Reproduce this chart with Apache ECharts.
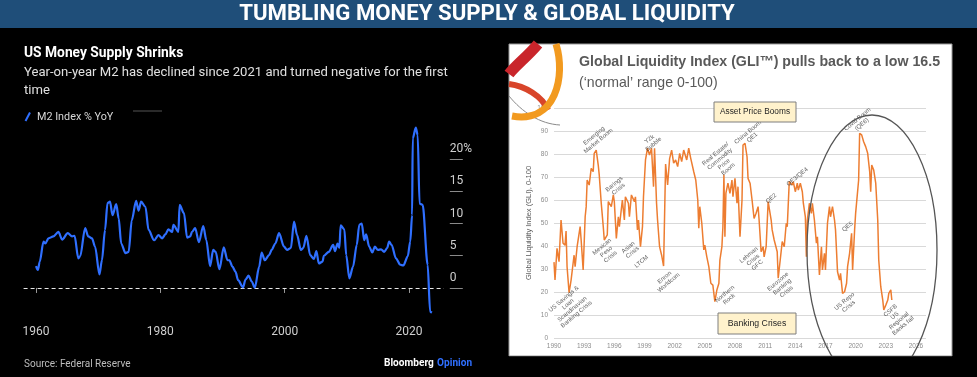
<!DOCTYPE html>
<html><head><meta charset="utf-8">
<script src="https://cdn.jsdelivr.net/npm/echarts@6/dist/echarts.min.js"></script>
<style>html,body{margin:0;padding:0;background:#000;}#main{width:977px;height:377px;}</style>
</head><body><div id="main"></div>
<script>
// ---------- DATA ----------
const m2Years = [1960.0,1960.3,1960.6,1961.2,1961.5,1962.0,1962.8,1963.6,1964.2,1965.1,1965.8,1966.2,1966.8,1967.1,1967.9,1968.4,1969.0,1969.5,1970.2,1970.6,1971.1,1971.5,1971.9,1972.3,1972.9,1973.3,1973.7,1974.4,1974.9,1975.4,1976.1,1976.5,1976.9,1977.6,1978.1,1979.0,1979.7,1980.3,1980.8,1981.3,1981.9,1982.1,1982.9,1983.1,1983.8,1984.3,1984.8,1985.1,1985.6,1986.2,1986.9,1987.4,1988.0,1988.5,1988.9,1989.5,1990.2,1990.8,1991.1,1991.6,1992.1,1992.5,1993.3,1993.7,1994.2,1994.7,1995.2,1995.9,1996.3,1996.8,1997.5,1997.9,1998.5,1999.1,1999.9,2000.4,2001.0,2001.5,2002.0,2002.6,2003.0,2003.5,2004.1,2004.7,2005.1,2005.5,2006.1,2006.3,2007.1,2007.8,2008.1,2008.5,2008.8,2009.0,2009.6,2009.9,2010.4,2011.0,2011.6,2012.0,2012.4,2012.8,2013.1,2013.6,2014.1,2014.5,2015.0,2015.5,2016.0,2016.5,2016.8,2017.2,2017.9,2018.6,2019.1,2019.8,2020.2,2020.5,2020.6,2021.1,2021.4,2021.7,2022.2,2023.0,2023.4,2023.7];
const m2Values = [3.4,2.8,4.1,7.2,6.9,7.7,8.0,8.7,7.5,8.5,8.0,8.1,4.6,4.9,9.3,8.0,7.7,6.4,2.1,4.3,9.0,13.2,13.4,11.3,13.0,10.8,6.9,5.4,5.6,10.5,13.5,12.0,13.4,12.6,9.0,7.4,8.2,7.7,8.3,9.1,8.7,9.8,8.7,12.9,11.6,7.8,8.0,8.7,9.3,7.1,9.6,7.4,3.4,5.9,5.6,2.9,6.3,4.3,4.3,3.3,2.5,1.2,0.1,1.3,1.9,1.0,0.05,3.3,5.5,4.3,5.1,5.9,6.9,8.5,6.4,5.9,6.2,10.3,8.2,5.9,6.2,8.1,5.1,4.5,5.7,3.8,4.1,5.0,5.6,6.7,5.7,6.9,6.2,9.7,9.1,5.1,1.5,3.3,6.7,9.8,10.0,7.4,8.3,6.4,5.5,6.4,5.9,6.0,5.6,6.2,7.2,6.7,4.6,3.6,3.5,4.9,7.2,11.3,23.2,24.9,23.7,13.1,12.9,3.6,-3.7,-3.8];
const m2TickYears = [1960, 1980, 2000, 2020];
const m2TickValues = [0, 5, 10, 15, 20];

const gliYears = [1990.0,1990.1,1990.3,1990.5,1990.7,1990.9,1991.1,1991.2,1991.3,1991.5,1991.7,1991.9,1992.0,1992.1,1992.3,1992.6,1992.7,1992.9,1993.1,1993.2,1993.3,1993.5,1993.7,1993.9,1994.0,1994.2,1994.4,1994.5,1994.7,1994.9,1995.0,1995.3,1995.4,1995.7,1995.9,1996.0,1996.2,1996.4,1996.5,1996.8,1997.0,1997.1,1997.4,1997.5,1997.7,1998.0,1998.1,1998.3,1998.4,1998.6,1998.8,1998.9,1999.1,1999.3,1999.5,1999.7,1999.9,2000.0,2000.2,2000.3,2000.5,2000.7,2000.9,2001.1,2001.3,2001.5,2001.7,2001.9,2002.1,2002.3,2002.5,2002.7,2002.9,2003.2,2003.4,2003.6,2003.9,2004.1,2004.3,2004.4,2004.5,2004.7,2004.9,2005.0,2005.2,2005.4,2005.6,2005.8,2006.0,2006.2,2006.4,2006.5,2006.7,2006.8,2006.9,2007.0,2007.1,2007.3,2007.5,2007.7,2007.8,2008.0,2008.2,2008.3,2008.5,2008.7,2008.8,2009.0,2009.2,2009.3,2009.5,2009.7,2009.9,2010.1,2010.3,2010.4,2010.6,2010.8,2010.9,2011.1,2011.3,2011.4,2011.6,2011.7,2011.9,2012.2,2012.3,2012.5,2012.7,2012.9,2013.1,2013.2,2013.4,2013.7,2013.8,2014.0,2014.2,2014.3,2014.5,2014.7,2014.8,2015.0,2015.1,2015.2,2015.4,2015.6,2015.7,2015.9,2016.1,2016.2,2016.4,2016.6,2016.7,2016.9,2017.0,2017.2,2017.4,2017.5,2017.7,2017.9,2018.0,2018.2,2018.4,2018.5,2018.7,2018.9,2019.1,2019.2,2019.4,2019.6,2019.7,2019.9,2020.0,2020.1,2020.3,2020.4,2020.6,2020.8,2021.0,2021.2,2021.4,2021.5,2021.6,2021.8,2022.0,2022.2,2022.3,2022.5,2022.7,2022.8,2023.0,2023.2,2023.3,2023.5,2023.6];
const gliValues = [33,25.2,39,33.2,51.3,41.2,40.4,46.5,31,19.7,25.2,32.5,36,31,39.7,48.4,42.6,29.6,52.7,57,68.7,66.5,73.8,72.3,80.3,81.7,75.2,70.9,58.6,48.4,42.6,44.8,59.3,57.1,62.2,59.3,43.3,52.7,48.4,60,51.3,61.4,58.6,52.7,62.2,59.3,61.4,47,51.3,39.7,48.4,61.4,77.4,82.5,79.6,82.5,65.8,82.5,58.6,51.3,39.7,36.1,31.3,75.6,66.5,78,81.7,76,77.4,74.5,80.3,76.7,81.7,77.4,82.5,78.1,72.3,68.7,60,47.7,57.1,49.9,38.3,40.4,35.3,31,23.8,23,15.8,20.9,23.8,33.9,39.7,48.4,71,44,63,67.3,62.9,68.7,61.4,69.4,58.6,65.8,44,60,83.9,84.6,78.8,69.4,67.3,60,52,54.2,57.1,51.3,37.5,39.7,35.3,39.7,59.3,58.6,51.3,47,42.6,37.5,26,33.9,41.9,39.7,49.9,48.4,68,66.5,68,63.6,67.3,64.3,67.3,63.6,58.6,52.7,35.3,51.3,58.6,54.2,58.6,51.3,41.2,44,27.4,39.7,29.6,36.8,29.6,49.9,57.1,52.7,57.1,51.3,47,28.8,25.2,28.1,19.4,20.1,23.8,31,36.8,45.5,29.6,47,54.2,54.9,68.7,89,88.3,85.3,83.2,80.3,72.3,63.6,75.2,73,67.3,51.3,33.9,22.3,16.5,12.2,14.3,16.5,19.4,20.9,16.5];
const gliTickYears = [1990,1993,1996,1999,2002,2005,2008,2011,2014,2017,2020,2023,2026];
const gliTickValues = [0,10,20,30,40,50,60,70,80,90,100];

const gliNotes = ["Emerging\nMarket Boom","Barings\nCrisis","Mexican\nPeso\nCrisis","Asian\nCrisis","LTCM","Y2k\nBubble","Enron\nWorldcom","US Savings &\nLoan\nScandinavian\nBanking Crisis","Real Estate/\nCommodity\nPrice\nBoom","Northern\nRock","China Boom\nQE1","QE2","Lehman\nCrisis\nGFC","Eurozone\nBanking\nCrisis","QE3/QE4","Covid Boom\n(QE6)","QE5","US Repo\nCrisis","CSFB\nUS\nRegional\nBanks fail"];
const gliNoteYears = [1994.2,1996.2,1995.2,1997.6,1998.7,1999.7,2001.2,1991.6,2006.7,2007.2,2009.5,2011.6,2009.8,2012.7,2014.2,2020.4,2019.2,2019.1,2024.1];
const gliNoteValues = [86.8,65.8,37.5,38.3,33.2,85.3,25.2,13.6,76.7,18,88.3,60.7,33.9,22.3,70.1,94,48.4,14.8,8.6];

// ---------- FONT HELPERS ----------
const cv = document.createElement('canvas').getContext('2d');
function hasFont(f){ cv.font='40px monospace'; const a=cv.measureText('abcdefghijkl WMi').width; cv.font='40px "'+f+'", monospace'; return cv.measureText('abcdefghijkl WMi').width!==a; }
const NARROW = hasFont('Liberation Sans Narrow') ? '"Liberation Sans Narrow"' : (hasFont('Roboto') ? 'Roboto' : 'sans-serif');
const ARIAL = '"Liberation Sans", Arial, sans-serif';
function fit(text, weight, family, target){ cv.font = weight+' 100px '+family; const w = cv.measureText(text).width; return Math.round(100*target/w*10)/10; }
function txt(text, x, y, weight, family, target, color, extra){
  const fs = fit(text, weight, family, target);
  return Object.assign({type:'text', z:100, style:{text:text, x:x, y:y, fill:color, font: weight+' '+fs+'px '+family, textVerticalAlign:'middle', verticalAlign:'middle'}}, extra||{});
}

const titleT = 'TUMBLING MONEY SUPPLY & GLOBAL LIQUIDITY';
const titleFs = fit(titleT, 'bold', NARROW, 496);
const subLine = 'Year-on-year M2 has declined since 2021 and turned negative for the first';
const subFs = fit(subLine, 'normal', NARROW, 423);
const bloFs = fit('Bloomberg Opinion', 'bold', NARROW, 87);
const boxFs = fit('Asset Price Booms', 'normal', ARIAL, 70);

const chart = echarts.init(document.getElementById('main'));
chart.setOption({
  backgroundColor: '#000',
  animation: false,
  grid: [
    {left: 23.6, width: 420.2, top: 114, height: 201},
    {left: 554, width: 372, top: 108, height: 230}
  ],
  xAxis: [
    {gridIndex:0, type:'value', min:1958, max:2025.6,
     axisLine:{show:false}, splitLine:{show:false},
     axisTick:{show:true, length:5, customValues:m2TickYears, lineStyle:{color:'#9a9a9a'}},
     axisLabel:{customValues:m2TickYears, formatter:v=>String(v), color:'#cfcfcf', fontSize:12, fontFamily:NARROW, margin:11}},
    {gridIndex:1, type:'value', min:1990, max:2027,
     axisLine:{show:false}, splitLine:{show:false}, axisTick:{show:false},
     axisLabel:{customValues:gliTickYears, formatter:v=>String(v), color:'#8c8c8c', fontSize:6.5, fontFamily:ARIAL, margin:5}}
  ],
  yAxis: [
    {gridIndex:0, type:'value', min:-4.2, max:27, position:'right', offset:6,
     axisLine:{show:false}, splitLine:{show:false},
     axisTick:{show:true, inside:false, length:13, customValues:m2TickValues, lineStyle:{color:'#8a8a8a'}},
     axisLabel:{customValues:m2TickValues, formatter: v => v===20 ? '20%' : String(v), color:'#cfcfcf', fontSize:12, fontFamily:NARROW, align:'left', verticalAlign:'bottom', margin:0, padding:[0,0,4,0]}},
    {gridIndex:1, type:'value', min:0, max:100, interval:10,
     axisLine:{show:false}, axisTick:{show:false},
     splitLine:{show:true, lineStyle:{color:'#d9d9d9', width:1}},
     axisLabel:{color:'#8c8c8c', fontSize:6.5, fontFamily:ARIAL, margin:6},
     name:'Global Liquidity Index (GLI), 0-100', nameLocation:'middle', nameRotate:90, nameGap:21,
     nameTextStyle:{color:'#595959', fontSize:7.5, fontFamily:ARIAL}}
  ],
  series: [
    {type:'line', xAxisIndex:0, yAxisIndex:0, data:m2Years.map((y,i)=>[y,m2Values[i]]),
     showSymbol:false, smooth:0.3, smoothMonotone:'x', clip:false,
     lineStyle:{color:'#2F6FFF', width:2.2}, z:5,
     markLine:{silent:true, symbol:'none', label:{show:false}, data:[{yAxis:0}],
       lineStyle:{color:'#e6e6e6', type:[4,3], width:1}}},
    {type:'line', xAxisIndex:1, yAxisIndex:1, data:gliYears.map((y,i)=>[y,gliValues[i]]),
     showSymbol:false, lineStyle:{color:'#ED7D31', width:1.5}, z:5},
    {type:'scatter', xAxisIndex:1, yAxisIndex:1, symbolSize:0, silent:true, z:6,
     data:gliNotes.map((t,i)=>({name:t, value:[gliNoteYears[i], gliNoteValues[i]]})),
     label:{show:true, position:'inside', formatter:p=>p.name, rotate:40, fontSize:6, lineHeight:6.6,
       color:'#333', fontFamily:ARIAL, align:'center'}}
  ],
  graphic: [
    // title bar
    {type:'rect', z:90, shape:{x:0,y:0,width:977,height:28}, style:{fill:'#1F4E79'}},
    {type:'text', z:100, style:{text:titleT, x:487, y:14.5, fill:'#fff', font:'bold '+titleFs+'px '+NARROW, textAlign:'center', align:'center', textVerticalAlign:'middle', verticalAlign:'middle'}},
    // left panel texts
    txt('US Money Supply Shrinks', 24, 54, 'bold', NARROW, 159, '#ffffff'),
    {type:'text', z:100, style:{text:subLine, x:24, y:73, fill:'#e0e0e0', font:'normal '+subFs+'px '+NARROW, textVerticalAlign:'middle', verticalAlign:'middle'}},
    {type:'text', z:100, style:{text:'time', x:24, y:91, fill:'#e0e0e0', font:'normal '+subFs+'px '+NARROW, textVerticalAlign:'middle', verticalAlign:'middle'}},
    {type:'line', z:100, shape:{x1:25.5,y1:121,x2:30,y2:112.5}, style:{stroke:'#2F6FFF', lineWidth:2}},
    txt('M2 Index % YoY', 37, 117, 'normal', NARROW, 76, '#d8d8d8'),
    {type:'line', z:100, shape:{x1:133,y1:111,x2:162,y2:111}, style:{stroke:'#555', lineWidth:1}},
    txt('Source: Federal Reserve', 24, 364, 'normal', NARROW, 107, '#bdbdbd'),
    {type:'text', z:100, style:{text:'{a|Bloomberg} {b|Opinion}', x:384, y:363, textVerticalAlign:'middle', verticalAlign:'middle',
      rich:{a:{fontWeight:'bold', fontSize:bloFs, fontFamily:NARROW, fill:'#fff', color:'#fff'}, b:{fontWeight:'bold', fontSize:bloFs, fontFamily:NARROW, fill:'#2F6FFF', color:'#2F6FFF'}}}},
    // right panel
    {type:'rect', z:-1, shape:{x:509,y:44,width:443,height:312}, style:{fill:'#ffffff', stroke:'#9a9a9a', lineWidth:1}},
    // logo ribbons
    {type:'bezierCurve', z:20, shape:{x1:509,y1:96,x2:560,y2:125,cpx1:522,cpy1:112,cpx2:540,cpy2:124}, style:{stroke:'#8a8a8a', lineWidth:1, fill:'none'}},
    {type:'bezierCurve', z:21, shape:{x1:538,y1:44,x2:509,y2:74,cpx1:528,cpy1:56,cpx2:515,cpy2:66}, style:{stroke:'#C9252B', lineWidth:11, fill:'none'}},
    {type:'bezierCurve', z:21, shape:{x1:509,y1:84,x2:548,y2:110,cpx1:525,cpy1:86,cpx2:542,cpy2:96}, style:{stroke:'#D8452A', lineWidth:6, fill:'none'}},
    {type:'bezierCurve', z:22, shape:{x1:556,y1:44,x2:512,y2:116,cpx1:566,cpy1:76,cpx2:556,cpy2:124}, style:{stroke:'#F29A1F', lineWidth:7, fill:'none'}},
    txt('Global Liquidity Index (GLI\u2122) pulls back to a low 16.5', 579, 62, 'bold', ARIAL, 362, '#595959'),
    txt('(\u2018normal\u2019 range 0-100)', 579, 83, 'normal', ARIAL, 139, '#595959'),
    // boxes
    {type:'rect', z:55, shape:{x:714,y:102,width:82,height:20}, style:{fill:'#FFF2CC', stroke:'#7f7f7f', lineWidth:1}},
    {type:'text', z:56, style:{text:'Asset Price Booms', x:755, y:112, fill:'#262626', font:'normal '+boxFs+'px '+ARIAL, textAlign:'center', align:'center', textVerticalAlign:'middle', verticalAlign:'middle'}},
    {type:'rect', z:55, shape:{x:718,y:313,width:78,height:21}, style:{fill:'#FFF2CC', stroke:'#7f7f7f', lineWidth:1}},
    {type:'text', z:56, style:{text:'Banking Crises', x:757, y:323.5, fill:'#262626', font:'normal '+(boxFs*1.05)+'px '+ARIAL, textAlign:'center', align:'center', textVerticalAlign:'middle', verticalAlign:'middle'}},
    // ellipse highlight
    {type:'ellipse', z:50, shape:{cx:872, cy:250, rx:65, ry:135}, style:{fill:'none', stroke:'#555', lineWidth:1.3}},
    {type:'rect', z:60, shape:{x:505,y:356.5,width:472,height:21}, style:{fill:'#000'}}
  ]
});
</script></body></html>
